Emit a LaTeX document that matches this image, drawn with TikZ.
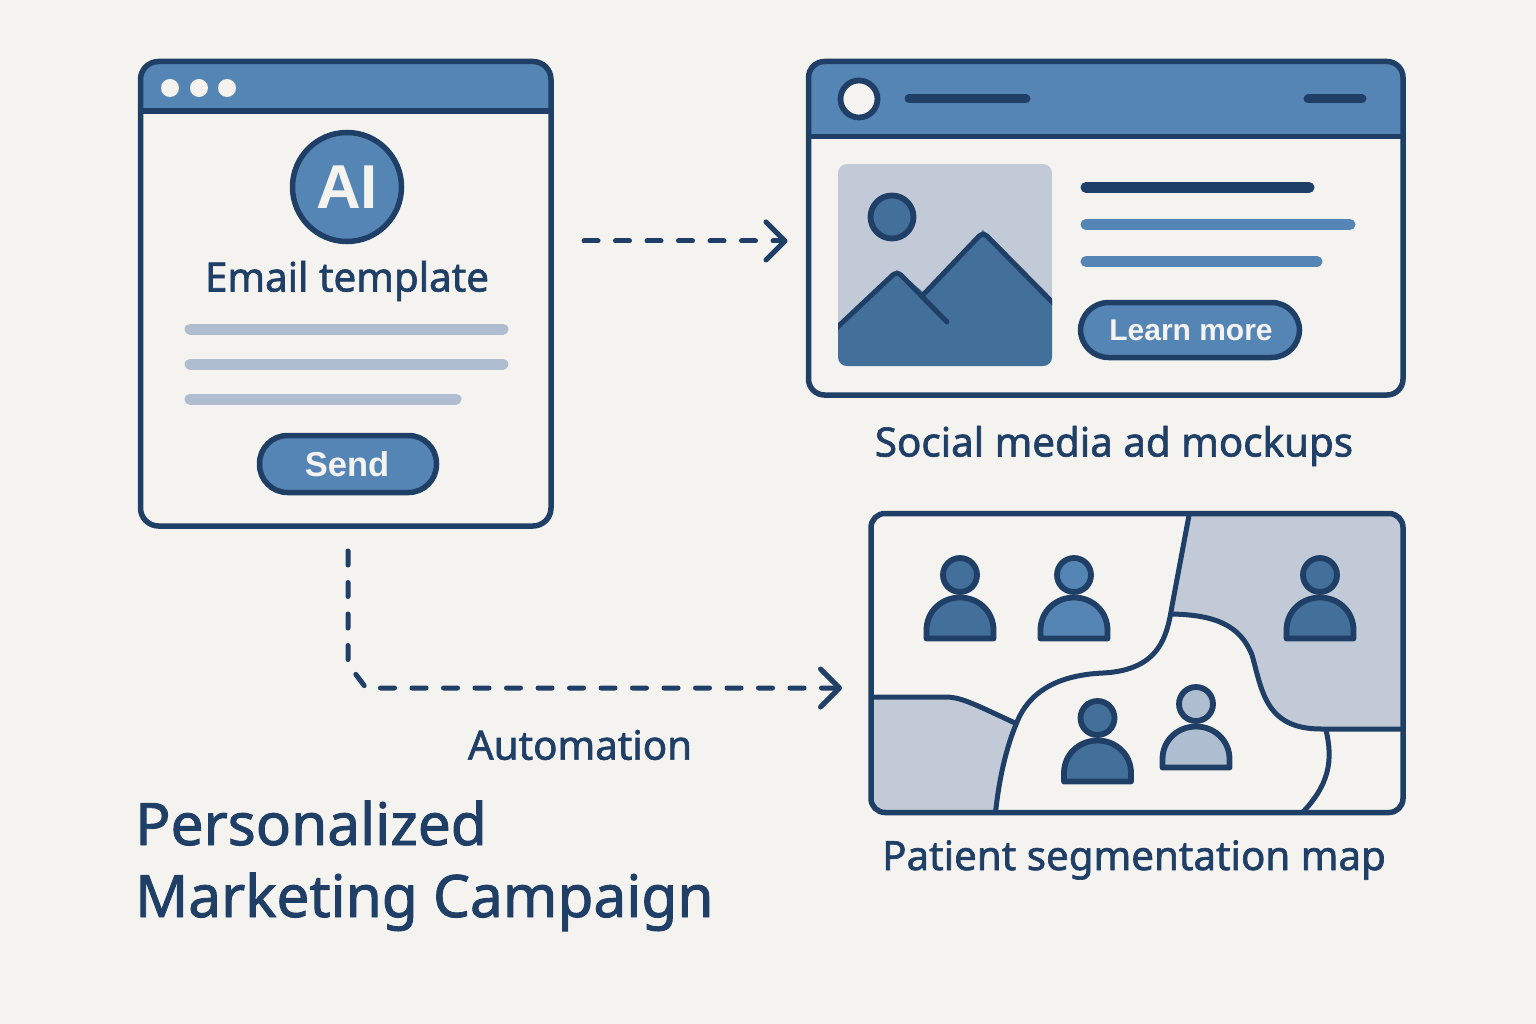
\documentclass[tikz,border=0pt]{standalone}
\usepackage{fontspec}
\setmainfont{Noto Sans}
\newfontfamily\medf[FakeBold=1.6]{Noto Sans}
\newfontfamily\boldfam{Liberation Sans}
\newcommand\boldf{\boldfam\bfseries}
\usetikzlibrary{arrows.meta}
\definecolor{navy}{HTML}{1F3F66}
\definecolor{midb}{HTML}{5585B5}
\definecolor{darkb}{HTML}{436F9B}
\definecolor{pale}{HTML}{C2CAD7}
\definecolor{lines}{HTML}{AEBDD0}
\definecolor{paper}{HTML}{F5F3F0}
\tikzset{
  frame/.style={draw=navy,line width=5.5pt,rounded corners=#1,inner sep=0pt,outer sep=0pt},
  bar/.style={line cap=round,line width=#1},
  flow/.style={draw=navy,line width=5pt,line cap=round,dash pattern=on 14pt off 17.5pt,
    -{Straight Barb[length=19pt,width=38pt,round]}},
  outline/.style={draw=navy,line width=5.8pt,line join=round},
  seam/.style={draw=navy,line width=5pt},
  caption/.style={font=\medf\fontsize{40.3}{40.3}\selectfont,text=navy,inner sep=0pt},
  btntext/.style={font=\boldf\fontsize{#1}{#1}\selectfont,text=paper,inner sep=0pt},
  headline/.style={anchor=base west,inner sep=0pt,font=\medf\fontsize{58.5}{58.5}\selectfont,text=navy},
}
\newcommand\person[3]{% cx, head y, colour
  \pgfmathsetmacro\pxl{#1-33.5}\pgfmathsetmacro\pxr{#1+33.5}
  \pgfmathsetmacro\pyt{#2+22.5}\pgfmathsetmacro\pyb{#2+63.5}\pgfmathsetmacro\pym{#2+55}
  \pgfmathsetmacro\pyc{#2+22.5+14}
  \draw[outline,fill=#3] (\pxl,\pyb) -- (\pxl,\pym) .. controls (\pxl,\pyc) and (#1-18.5,\pyt) .. (#1,\pyt)
     .. controls (#1+18.5,\pyt) and (\pxr,\pyc) .. (\pxr,\pym) -- (\pxr,\pyb) -- cycle;
  \draw[outline,fill=#3] (#1,#2) circle[radius=17pt];
}
\begin{document}
\begin{tikzpicture}[x=1pt,y=-1pt]
\useasboundingbox (0,0) rectangle (1536,1024);
\fill[paper] (0,0) rectangle (1536,1024);

% Email window
\fill[midb,rounded corners=18pt] (140.5,61.5) rectangle (551,140);
\fill[paper] (138,111) rectangle (553,160);
\draw[navy,line width=5.5pt] (140.5,111) -- (551,111);
\foreach \dx in {170,199,227}{\fill[paper] (\dx,88) circle[radius=9pt];}
\node[frame=18pt,minimum width=410.5pt,minimum height=464.5pt] (email) at (345.75,293.75) {};
\node[circle,draw=navy,line width=5.5pt,fill=midb,minimum size=109pt,inner sep=0pt,
      font=\boldf\fontsize{62}{62}\selectfont,text=paper] (ai) at (347,187) {AI};
\node[caption] (emailt) at (347,281) {Email template};
\draw[lines,bar=11pt] (190,329) -- (503,329);
\draw[lines,bar=11pt] (190,364) -- (503,364);
\draw[lines,bar=11pt] (190,399) -- (456,399);
\node[frame=28pt,fill=midb,minimum width=177pt,minimum height=57pt] (send) at (348,464) {};
\node[btntext=34.5] (sendt) at (347,464) {Send};

% Ad window
\fill[midb,rounded corners=16pt] (808.5,61.5) rectangle (1403,160);
\fill[paper] (806,136.5) rectangle (1405,170);
\draw[navy,line width=5.5pt] (808.5,136.5) -- (1403,136.5);
\draw[outline,fill=paper] (859,99) circle[radius=18.5pt];
\draw[navy,bar=9pt] (909,99) -- (1026,99);
\draw[navy,bar=9pt] (1308,99) -- (1362,99);
\node[frame=16pt,minimum width=594.5pt,minimum height=333.5pt] (ad) at (1105.75,228.25) {};
\begin{scope}
  \clip[rounded corners=9pt] (838,164) rectangle (1052,366);
  \fill[pale] (838,164) rectangle (1052,366);
  \fill[darkb] (1060,309) -- (983,230) -- (923,292) -- (897,270) -- (830,335) -- (830,370) -- (1060,370) -- cycle;
  \draw[navy,line width=5pt,line join=round,rounded corners=6pt,line cap=round]
     (1062,312) -- (983,232) -- (923,295);
  \draw[navy,line width=5pt,line join=round,rounded corners=6pt,line cap=round]
     (828,336) -- (897,271) -- (947,322);
\end{scope}
\draw[outline,fill=darkb] (892,217) circle[radius=21.5pt];
\draw[navy,bar=11pt] (1086,187.5) -- (1309,187.5);
\draw[midb,bar=11pt] (1086,224.5) -- (1350,224.5);
\draw[midb,bar=11pt] (1086,261.5) -- (1317,261.5);
\node[frame=28pt,fill=midb,minimum width=219pt,minimum height=55pt] (learn) at (1190,330) {};
\node[btntext=30] (learnt) at (1191,330) {Learn more};
\node[caption] (adt) at (1114,446) {Social media ad mockups};

% Segmentation map
\begin{scope}
  \clip[rounded corners=14pt] (871,513) rectangle (1404,813);
  \fill[pale] (1190,510) -- (1172,606) -- (1172,614) .. controls (1215,615) and (1240,625) .. (1252,655)
     .. controls (1262,690) and (1265,729) .. (1321,729) -- (1410,729) -- (1410,510) -- cycle;
  \fill[pale] (865,697) -- (945,697) .. controls (960,697) and (970,702) .. (1017,724)
     .. controls (1005,750) and (998,785) .. (995,818) -- (865,818) -- cycle;
  \draw[seam] (1190,510) -- (1172,606) .. controls (1167,636) and (1160,670) .. (1103,673)
     .. controls (1060,675) and (1030,690) .. (1017,722) .. controls (1005,750) and (998,785) .. (995,818);
  \draw[seam] (1172,614) .. controls (1215,615) and (1240,625) .. (1252,655)
     .. controls (1262,690) and (1265,729) .. (1321,729) -- (1410,729);
  \draw[seam] (1326,730) .. controls (1333,760) and (1330,785) .. (1300,815);
  \draw[seam] (865,697) -- (945,697) .. controls (960,697) and (970,702) .. (1015,723);
\end{scope}
\node[frame=14pt,minimum width=532pt,minimum height=299pt] (seg) at (1137,663) {};
\person{960}{575}{darkb}
\person{1074}{575}{midb}
\person{1320}{575}{darkb}
\person{1097.5}{718}{darkb}
\person{1196}{704}{lines}
\node[caption] (segt) at (1134,860) {Patient segmentation map};

% Connectors
\draw[flow,shorten <=33pt,shorten >=21pt] (email.east |- 0,241) -- (ad.west |- 0,241);
\draw[flow,shorten <=25pt,shorten >=29pt] (348,0 |- email.south) -- (348,664) -- (366,688) -- (seg.west |- 0,688);
\node[caption,anchor=center] (auto) at (580,745) {Automation};

% Title
\node[headline] (t1) at (135,845) {Personalized};
\node[headline] (t2) at (135,917) {Marketing Campaign};
\end{tikzpicture}
\end{document}
